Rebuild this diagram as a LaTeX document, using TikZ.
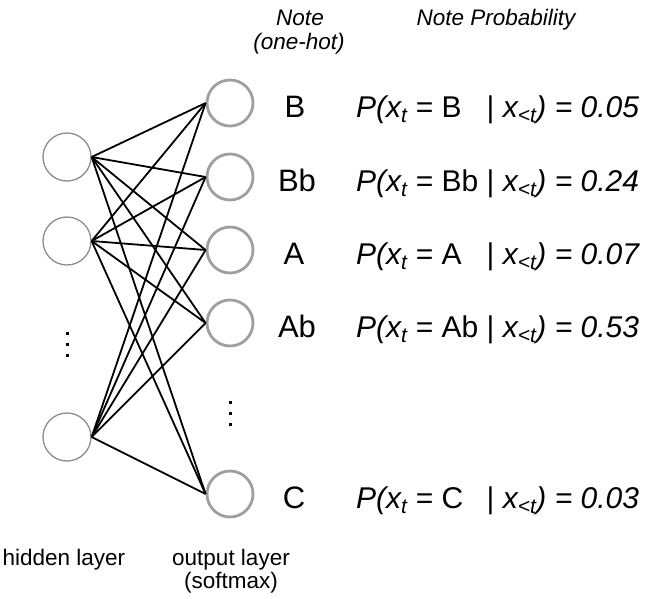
\documentclass[tikz,border=0pt]{standalone}
\usepackage{fontspec}
\setmainfont{Liberation Sans}
\begin{document}
\begin{tikzpicture}[x=1pt,y=-1pt,
  hid/.style={circle,draw=gray!90,line width=1.3pt,minimum size=48pt,inner sep=0pt},
  outn/.style={circle,draw=gray!75,line width=2.8pt,minimum size=46pt,inner sep=0pt},
  conn/.style={black,line width=1.8pt},
  dotn/.style={rectangle,fill=black,minimum size=3pt,inner sep=0pt},
  lab/.style={font=\fontsize{31}{36}\selectfont,anchor=base,inner sep=0pt},
  prob/.style={font=\fontsize{30}{36}\selectfont,anchor=base west,inner sep=0pt},
  head/.style={font=\fontsize{22.5}{26}\selectfont\itshape,anchor=base,inner sep=0pt},
  foot/.style={font=\fontsize{22.5}{26}\selectfont,anchor=base,inner sep=0pt}]
\useasboundingbox (0,0) rectangle (645,598);
% hidden layer
\node[hid] (h1) at (67,157) {};
\node[hid] (h2) at (67,241) {};
\node[hid] (h3) at (67,437) {};
% output layer
\node[outn] (o1) at (230,103) {};
\node[outn] (o2) at (230,177) {};
\node[outn] (o3) at (230,250) {};
\node[outn] (o4) at (230,323) {};
\node[outn] (o5) at (230,494) {};
% connectors
\foreach \h in {h1,h2,h3}
  \foreach \o in {o1,o2,o3,o4,o5}
    \draw[conn] (\h.east) -- (\o.west);
% dots
\node[dotn] (hd1) at (67,333) {};
\node[dotn] (hd2) at (67,344) {};
\node[dotn] (hd3) at (67,355) {};
\node[dotn] (od1) at (230,402) {};
\node[dotn] (od2) at (230,413) {};
\node[dotn] (od3) at (230,424) {};
% note labels
\node[lab] (lB)  at (295,117) {B};
\node[lab] (lBb) at (297,191) {Bb};
\node[lab] (lA)  at (294,264) {A};
\node[lab] (lAb) at (297,337) {Ab};
\node[lab] (lC)  at (294,508) {C};
% probabilities
\newcommand{\probline}[2]{\textit{P(x\textsubscript{t}} = \makebox[1.5em][l]{#1}| \textit{x\textsubscript{<t}) = #2}}
\node[prob] (p1) at (356,117) {\probline{B}{0.05}};
\node[prob] (p2) at (356,191) {\probline{Bb}{0.24}};
\node[prob] (p3) at (356,264) {\probline{A}{0.07}};
\node[prob] (p4) at (356,337) {\probline{Ab}{0.53}};
\node[prob] (p5) at (356,508) {\probline{C}{0.03}};
% headers
\node[head] (hn1) at (300,25) {Note};
\node[head] (hn2) at (299,49) {(one-hot)};
\node[head] (hp) at (496,25) {Note Probability};
% footers
\node[foot] (fh) at (64,565) {hidden layer};
\node[foot] (fo1) at (231,565) {output layer};
\node[foot] (fo2) at (231,588) {(softmax)};
\end{tikzpicture}
\end{document}
